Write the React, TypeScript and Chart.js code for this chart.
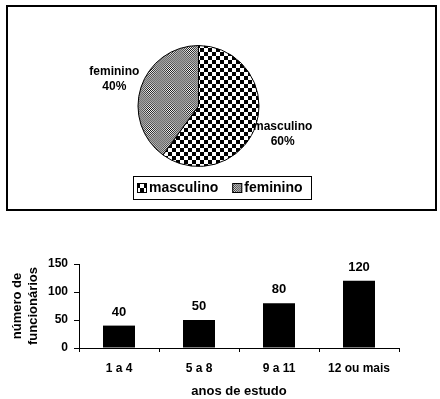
import React, { useEffect, useRef } from 'react';
import { Chart, registerables } from 'chart.js';

Chart.register(...registerables);

const genderLabels = ['masculino', 'feminino'];
const genderValues = [60, 40];
const studyCategories = ['1 a 4', '5 a 8', '9 a 11', '12 ou mais'];
const employeeCounts = [40, 50, 80, 120];
const yMin = 0;
const yMax = 150;
const yStep = 50;
const yTitle = ['número de', 'funcionários'];
const xTitle = 'anos de estudo';

const FONT = '"Liberation Sans", Arial, sans-serif';

function makeChecker(): CanvasPattern | string {
  const c = document.createElement('canvas');
  c.width = 8;
  c.height = 8;
  const g = c.getContext('2d');
  if (!g) return '#666';
  g.fillStyle = '#fff';
  g.fillRect(0, 0, 8, 8);
  g.fillStyle = '#000';
  g.fillRect(0, 0, 4, 4);
  g.fillRect(4, 4, 4, 4);
  return g.createPattern(c, 'repeat') || '#666';
}

function makeDither(): CanvasPattern | string {
  const n = 20;
  const c = document.createElement('canvas');
  c.width = n;
  c.height = n;
  const g = c.getContext('2d');
  if (!g) return '#888';
  const img = g.createImageData(n, n);
  for (let y = 0; y < n; y++) {
    for (let x = 0; x < n; x++) {
      const dx = x + 0.5 - n / 2;
      const dy = y + 0.5 - n / 2;
      const d = Math.sqrt(dx * dx + dy * dy) / (n / 2);
      const a = Math.max(0, 1 - d) * 110 + 18;
      let v = (x + y) % 2 === 0 ? 138 - a : 138 + a;
      v = Math.max(0, Math.min(255, v));
      const i = (y * n + x) * 4;
      img.data[i] = v;
      img.data[i + 1] = v;
      img.data[i + 2] = v;
      img.data[i + 3] = 255;
    }
  }
  g.putImageData(img, 0, 0);
  return g.createPattern(c, 'repeat') || '#888';
}

const pieLabelPlugin = {
  id: 'pieLabels',
  afterDatasetsDraw(chart: any) {
    const ctx = chart.ctx;
    const meta = chart.getDatasetMeta(0);
    const data = chart.data.datasets[0].data as number[];
    const total = data.reduce((s, v) => s + v, 0);
    ctx.save();
    ctx.fillStyle = '#000';
    ctx.font = `bold 12px ${FONT}`;
    ctx.textAlign = 'center';
    ctx.textBaseline = 'middle';
    meta.data.forEach((arc: any, i: number) => {
      const p = arc.getProps(['x', 'y', 'startAngle', 'endAngle', 'outerRadius'], true);
      const mid = (p.startAngle + p.endAngle) / 2;
      const r = p.outerRadius + 28;
      const cx = p.x + Math.cos(mid) * r;
      const cy = p.y + Math.sin(mid) * r;
      ctx.fillText(String(chart.data.labels[i]), cx, cy - 7);
      ctx.fillText(Math.round((data[i] / total) * 100) + '%', cx, cy + 8);
    });
    ctx.restore();
  },
};

const boxedLegendPlugin = {
  id: 'boxedLegend',
  afterDraw(chart: any) {
    const ctx = chart.ctx;
    const ds = chart.data.datasets[0];
    const labels = chart.data.labels as string[];
    ctx.save();
    ctx.font = `bold 14px ${FONT}`;
    const sq = 10;
    const gap = 2;
    const itemGap = 14;
    const padL = 4;
    const padR = 8;
    const widths = labels.map((l) => ctx.measureText(l).width);
    const total = padL + padR + widths.reduce((s, w) => s + sq + gap + w, 0) + itemGap * (labels.length - 1);
    const cx = chart.width / 2 + 1.5;
    const cy = 187.5;
    const h = 23;
    const left = Math.round(cx - total / 2);
    const top = Math.round(cy - h / 2);
    ctx.fillStyle = '#fff';
    ctx.fillRect(left, top, total, h);
    ctx.strokeStyle = '#000';
    ctx.lineWidth = 1;
    ctx.strokeRect(left + 0.5, top + 0.5, Math.round(total), h);
    let x = left + padL;
    labels.forEach((l, i) => {
      ctx.fillStyle = ds.backgroundColor[i];
      ctx.fillRect(x, Math.round(cy - sq / 2), sq, sq);
      ctx.strokeStyle = '#000';
      ctx.strokeRect(x + 0.5, Math.round(cy - sq / 2) + 0.5, sq - 1, sq - 1);
      x += sq + gap;
      ctx.fillStyle = '#000';
      ctx.textAlign = 'left';
      ctx.textBaseline = 'middle';
      ctx.fillText(l, x, cy + 1);
      x += widths[i] + itemGap;
    });
    ctx.restore();
  },
};

const barValuePlugin = {
  id: 'barValues',
  afterDatasetsDraw(chart: any) {
    const ctx = chart.ctx;
    const meta = chart.getDatasetMeta(0);
    const data = chart.data.datasets[0].data as number[];
    ctx.save();
    ctx.fillStyle = '#000';
    ctx.font = `bold 13px ${FONT}`;
    ctx.textAlign = 'center';
    ctx.textBaseline = 'bottom';
    meta.data.forEach((bar: any, i: number) => {
      ctx.fillText(String(data[i]), bar.x, bar.y - 7);
    });
    ctx.restore();
  },
};

export default function App() {
  const pieRef = useRef<HTMLCanvasElement | null>(null);
  const barRef = useRef<HTMLCanvasElement | null>(null);

  useEffect(() => {
    if (!pieRef.current || !barRef.current) return;
    const pie = new Chart(pieRef.current, {
      type: 'pie',
      data: {
        labels: genderLabels,
        datasets: [
          {
            data: genderValues,
            backgroundColor: [makeChecker(), makeDither()] as any,
            borderColor: '#000',
            borderWidth: 1,
          },
        ],
      },
      options: {
        responsive: false,
        animation: false,
        layout: { padding: { left: 137, right: 180, top: 45, bottom: 48 } },
        plugins: {
          legend: { display: false },
          tooltip: { enabled: false },
        },
      },
      plugins: [pieLabelPlugin, boxedLegendPlugin],
    });

    const bar = new Chart(barRef.current, {
      type: 'bar',
      data: {
        labels: studyCategories,
        datasets: [
          {
            data: employeeCounts,
            backgroundColor: '#000',
            borderWidth: 0,
            categoryPercentage: 1,
            barPercentage: 0.4,
          },
        ],
      },
      options: {
        responsive: false,
        animation: false,
        layout: { padding: { left: 8, right: 41, top: 24, bottom: 0 } },
        plugins: {
          legend: { display: false },
          tooltip: { enabled: false },
        },
        scales: {
          x: {
            grid: {
              drawOnChartArea: false,
              drawTicks: true,
              tickLength: 4,
              color: '#000',
              offset: true,
            },
            border: { display: true, color: '#000', width: 1 },
            ticks: {
              color: '#000',
              font: { family: FONT, size: 12, weight: 'bold' },
              padding: 9,
              maxRotation: 0,
            },
            title: {
              display: true,
              text: xTitle,
              color: '#000',
              font: { family: FONT, size: 13, weight: 'bold' },
              padding: { top: 0, bottom: 0 },
            },
            afterFit(scale: any) {
              scale.height = 51;
            },
          },
          y: {
            min: yMin,
            max: yMax,
            grid: {
              drawOnChartArea: false,
              drawTicks: true,
              tickLength: 5,
              color: '#000',
            },
            border: { display: true, color: '#000', width: 1 },
            ticks: {
              stepSize: yStep,
              color: '#000',
              font: { family: FONT, size: 12, weight: 'bold' },
              padding: 6,
            },
            title: {
              display: true,
              text: yTitle,
              color: '#000',
              font: { family: FONT, size: 13, weight: 'bold' },
              padding: { top: 2, bottom: 0 },
            },
            afterFit(scale: any) {
              scale.width = 71;
            },
          },
        },
      },
      plugins: [barValuePlugin],
    });

    return () => {
      pie.destroy();
      bar.destroy();
    };
  }, []);

  return (
    <div style={{ position: 'fixed', left: 0, top: 0, width: 440, height: 399, background: '#fff' }}>
      <div
        style={{
          position: 'absolute',
          left: 6,
          top: 5,
          width: 431,
          height: 206,
          border: '2px solid #000',
          boxSizing: 'border-box',
        }}
      />
      <canvas
        ref={pieRef}
        width={440}
        height={215}
        style={{ position: 'absolute', left: 0, top: 0, width: 440, height: 215 }}
      />
      <canvas
        ref={barRef}
        width={440}
        height={159}
        style={{ position: 'absolute', left: 0, top: 240, width: 440, height: 159 }}
      />
    </div>
  );
}
